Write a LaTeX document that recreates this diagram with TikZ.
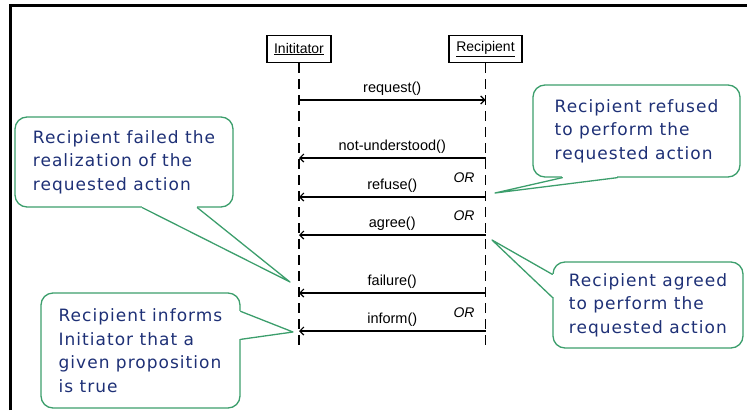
\documentclass[tikz,border=0pt]{standalone}
\usepackage{fontspec}
\setmainfont{Liberation Sans}
\newfontfamily\notefont[LetterSpace=6]{DejaVu Sans}
\usetikzlibrary{arrows.meta,calc}
\definecolor{notegreen}{RGB}{60,158,108}
\definecolor{notetext}{RGB}{30,48,118}
\begin{document}
\begin{tikzpicture}[x=1pt,y=-1pt,
  headbox/.style={draw,line width=1.2pt,minimum height=27pt,inner sep=0pt,font=\fontsize{14}{16}\selectfont},
  lifeline/.style={line width=1.4pt,dash pattern=on 10pt off 6pt},
  msg/.style={line width=1.2pt,-{Straight Barb[length=4pt,width=8pt]}},
  msglabel/.style={font=\fontsize{14.5}{16}\selectfont,inner sep=0pt,above=4pt},
  ortext/.style={font=\fontsize{14}{16}\selectfont\itshape,inner sep=0pt},
  note/.style={draw=notegreen,line width=1.3pt,rounded corners=12pt,align=left,text=notetext,inner sep=0pt,font=\notefont\fontsize{17}{23.5}\selectfont},
  noteline/.style={draw=notegreen,line width=1.3pt,line cap=round,line join=round},
  gap/.style={fill=white}]
\useasboundingbox (0,0) rectangle (747,410);
\pgfmathsetmacro{\ix}{299}
\pgfmathsetmacro{\rx}{485.5}
\draw[line width=3pt] (10.5,410) -- (10.5,5.5) -- (747,5.5);
\node[headbox,minimum width=64pt] (init) at (\ix,49) {\underline{Inititator}};
\node[headbox,minimum width=73pt] (recp) at (\rx,49) {\underline{Recipient}};
\coordinate (iend) at (\ix,350);
\coordinate (rend) at (\rx,350);
\draw[lifeline] (init) -- (iend);
\draw[lifeline] (recp) -- (rend);
\foreach \n/\y in {0/100,1/158,2/197,3/235,4/293,5/331}{
  \coordinate (i\n) at (\ix,\y);
  \coordinate (r\n) at (\rx,\y);
}
\draw[msg] (i0) -- (r0) node[msglabel,midway] {request()};
\draw[msg] (r1) -- (i1) node[msglabel,midway] {not-understood()};
\draw[msg] (r2) -- (i2) node[msglabel,midway] {refuse()};
\draw[msg] (r3) -- (i3) node[msglabel,midway] {agree()};
\draw[msg] (r4) -- (i4) node[msglabel,midway] {failure()};
\draw[msg] (r5) -- (i5) node[msglabel,midway] {inform()};
\node[ortext] (or1) at (464,178) {OR};
\node[ortext] (or2) at (464,216) {OR};
\node[ortext] (or3) at (464,313) {OR};
\node[note,minimum width=218pt,minimum height=90pt] (nfail) at (124,162) {Recipient failed the\\realization of the\\requested action};
\node[note,minimum width=207pt,minimum height=92pt] (nrefuse) at (636.5,131) {Recipient refused\\to perform the\\requested action};
\node[note,minimum width=190pt,minimum height=86pt] (nagree) at (648,305) {Recipient agreed\\to perform the\\requested action};
\node[note,minimum width=199pt,minimum height=115pt] (ninform) at (140.5,350.5) {Recipient informs\\Initiator that a\\given proposition\\is true};
\coordinate (tfail) at (290,282);
\coordinate (trefuse) at (495,193);
\coordinate (tagree) at (492,240);
\coordinate (tinform) at (293,332);
\fill[gap] ($(nfail.south west)+(128,-1.5)$) rectangle ($(nfail.south west)+(183,1.5)$);
\draw[noteline] ($(nfail.south west)+(128,0)$) -- (tfail) -- ($(nfail.south west)+(183,0)$);
\fill[gap] ($(nrefuse.south west)+(30,-1.5)$) rectangle ($(nrefuse.south west)+(85,1.5)$);
\draw[noteline] ($(nrefuse.south west)+(30,0)$) -- (trefuse) -- ($(nrefuse.south west)+(85,0)$);
\fill[gap] ($(nagree.north west)+(-1.5,13)$) rectangle ($(nagree.north west)+(1.5,36)$);
\draw[noteline] ($(nagree.north west)+(0,13)$) -- (tagree) -- ($(nagree.north west)+(0,36)$);
\fill[gap] ($(ninform.north east)+(-1.5,19)$) rectangle ($(ninform.north east)+(1.5,47)$);
\draw[noteline] ($(ninform.north east)+(0,19)$) -- (tinform) -- ($(ninform.north east)+(0,47)$);
\end{tikzpicture}
\end{document}
